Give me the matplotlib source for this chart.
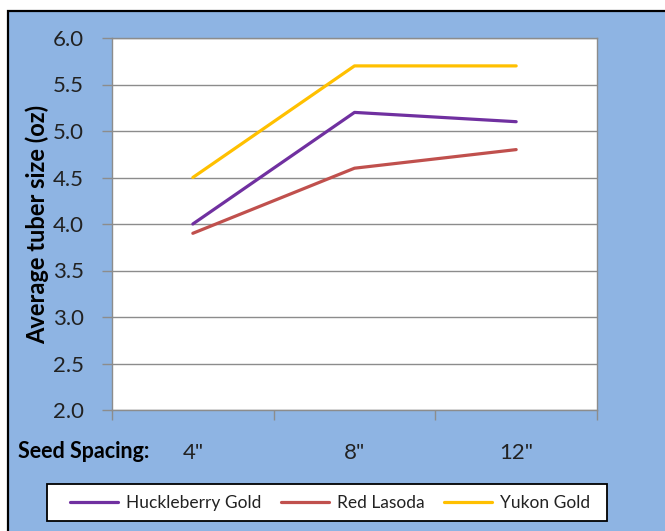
import matplotlib.pyplot as plt
from matplotlib.patches import Rectangle
from matplotlib.transforms import blended_transform_factory

spacings = ['4"', '8"', '12"']
huckleberry_gold = [4.0, 5.2, 5.1]
red_lasoda = [3.9, 4.6, 4.8]
yukon_gold = [4.5, 5.7, 5.7]

series_names = ["Huckleberry Gold", "Red Lasoda", "Yukon Gold"]
series_colors = ["#7030A0", "#C0504D", "#FFC000"]

BG = "#8EB4E3"
GRID = "#8C8C8C"
TEXT = "#222222"

plt.rcParams["font.family"] = ["Lato", "DejaVu Sans"]

fig = plt.figure(figsize=(6.65, 5.31), dpi=100)
fig.patch.set_facecolor("white")

# blue chart area with black frame (runs past right/bottom edges)
top = 1 - 11 / 531
fig.patches.append(
    Rectangle(
        (7.5 / 665, -0.05),
        1.2,
        top + 0.05,
        transform=fig.transFigure,
        facecolor=BG,
        edgecolor="black",
        linewidth=1.6,
        zorder=-10,
    )
)

ax = fig.add_axes([112 / 665, (531 - 410) / 531, 485 / 665, 372 / 531])
ax.set_facecolor("white")

x = range(len(spacings))
for values, name, color in zip(
    [huckleberry_gold, red_lasoda, yukon_gold], series_names, series_colors
):
    ax.plot(x, values, color=color, linewidth=2.3, label=name,
            solid_capstyle="round", zorder=3)

ax.set_xlim(-0.5, len(spacings) - 0.5)
ax.set_ylim(2.0, 6.0)
ax.set_yticks([2.0 + 0.5 * i for i in range(9)])
ax.set_yticklabels([f"{2.0 + 0.5 * i:.1f}" for i in range(9)])
ax.grid(axis="y", color=GRID, linewidth=1.0)
ax.set_axisbelow(True)

ax.set_xticks([i - 0.5 for i in range(len(spacings) + 1)])
ax.set_xticklabels([])
ax.set_xticks(list(x), minor=True)
ax.set_xticklabels(spacings, minor=True, fontsize=16, color=TEXT)
ax.tick_params(axis="x", which="minor", length=0, pad=24)
ax.tick_params(axis="x", which="major", length=7, color=GRID, width=1)
ax.tick_params(axis="y", length=7, color=GRID, width=1, labelsize=16,
               labelcolor=TEXT, pad=13)

for side in ["left", "right", "top", "bottom"]:
    ax.spines[side].set_color(GRID)
    ax.spines[side].set_linewidth(1.0)

ax.set_ylabel("Average tuber size (oz)", fontsize=17, fontweight="bold",
              labelpad=3)

trans = blended_transform_factory(fig.transFigure, ax.transAxes)
ax.text(18 / 665, -(452 - 410) / 372, "Seed Spacing:", transform=trans,
        fontsize=15.5, fontweight="bold", ha="left", va="center")

# legend box drawn by hand so the padding matches
fig.patches.append(
    Rectangle(
        (47 / 665, 1 - 521 / 531),
        560 / 665,
        37 / 531,
        transform=fig.transFigure,
        facecolor="white",
        edgecolor="black",
        linewidth=1.3,
        zorder=5,
    )
)
leg = fig.legend(
    loc="center",
    bbox_to_anchor=(330 / 665, 1 - 503 / 531),
    ncol=3,
    frameon=False,
    fontsize=12.5,
    handlelength=2.8,
    handletextpad=0.45,
    columnspacing=1.1,
)
leg.set_zorder(6)
for text in leg.get_texts():
    text.set_color(TEXT)

fig.savefig("out.png", dpi=100)
